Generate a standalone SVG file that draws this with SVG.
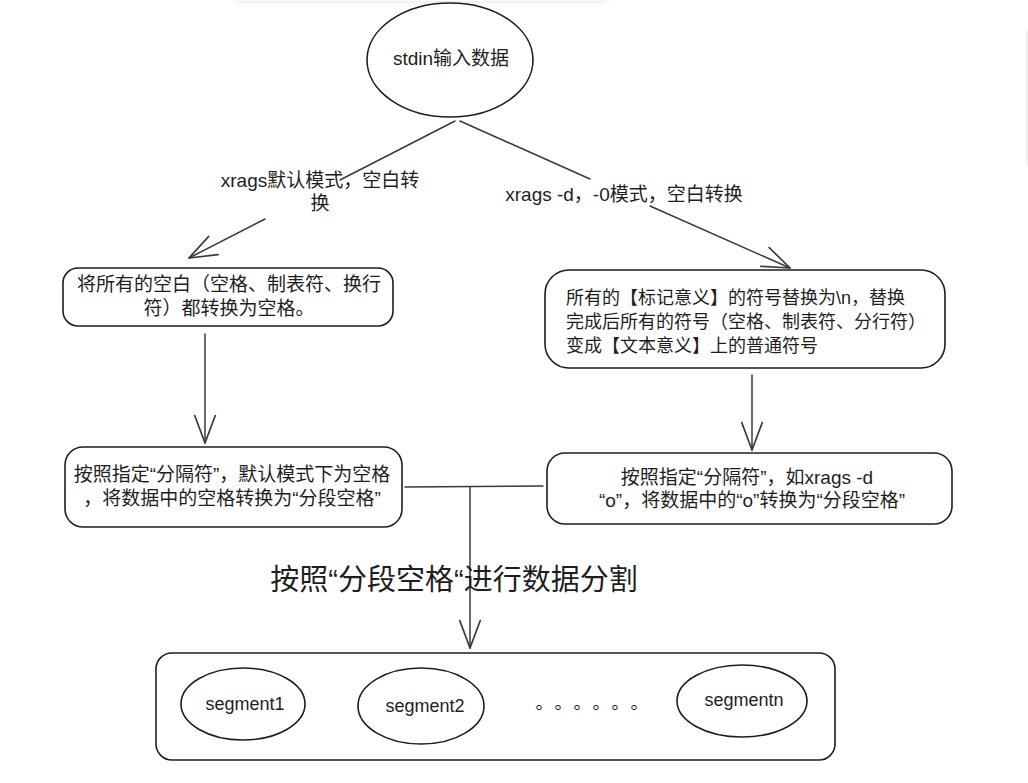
<svg xmlns="http://www.w3.org/2000/svg" width="1028" height="783" viewBox="0 0 1028 783">
<defs>
<style>
.shape{fill:none;stroke:#1e1e1e;stroke-width:1.6;stroke-linecap:round;stroke-linejoin:round}
.conn{fill:none;stroke:#3a3a3a;stroke-width:1.5;stroke-linecap:round}
text{font-family:"Liberation Sans","Noto Sans CJK SC",sans-serif;fill:#1e1e1e;text-anchor:middle}
.t19{font-size:19px}
.t18{font-size:18px}
.left{text-anchor:start}
</style>
<marker id="arr" markerUnits="userSpaceOnUse" markerWidth="40" markerHeight="40" refX="0" refY="0" viewBox="-30 -15 35 30" orient="auto" overflow="visible">
<path d="M-24,-9 L0,0 L-24,9" fill="none" stroke="#3a3a3a" stroke-width="1.5" stroke-linecap="round" stroke-linejoin="round"/>
</marker>
<filter id="sh" x="-10%" y="-50%" width="120%" height="200%">
<feGaussianBlur stdDeviation="2"/>
</filter>
</defs>
<rect width="1028" height="783" fill="#ffffff"/>
<g id="ui-artifacts">
<rect x="232" y="-30" width="378" height="32" rx="10" fill="#e6e6e6" filter="url(#sh)"/>
<rect x="232" y="-30" width="378" height="31" rx="10" fill="#ffffff"/>
<line x1="1027" y1="30" x2="1027" y2="166" stroke="#ececec" stroke-width="1.5"/>
</g>
<g id="connectors">
<line class="conn" x1="455" y1="121" x2="340" y2="180"/>
<line class="conn" x1="265" y1="219" x2="189" y2="258" marker-end="url(#arr)"/>
<line class="conn" x1="460" y1="121" x2="590" y2="179"/>
<line class="conn" x1="650" y1="206" x2="790" y2="268" marker-end="url(#arr)"/>
<line class="conn" x1="205" y1="334" x2="205" y2="443" marker-end="url(#arr)"/>
<line class="conn" x1="752" y1="375" x2="752" y2="450" marker-end="url(#arr)"/>
<line class="conn" x1="405" y1="487" x2="543" y2="486"/>
<line class="conn" x1="470" y1="487" x2="470" y2="648" marker-end="url(#arr)"/>
<text class="t19" x="320" y="187">xrags默认模式，空白转</text>
<text class="t19" x="320" y="210">换</text>
<text class="t19" x="624" y="201">xrags -d，-0模式，空白转换</text>
<text x="454" y="590" style="font-size:29px">按照“分段空格“进行数据分割</text>
</g>
<g id="node-stdin">
<ellipse class="shape" cx="450" cy="60" rx="83" ry="57"/>
<text class="t19" x="451" y="65">stdin输入数据</text>
</g>
<g id="node-default">
<rect class="shape" x="63" y="268" width="330" height="58" rx="15"/>
<text class="t19" x="229" y="291">将所有的空白（空格、制表符、换行</text>
<text class="t19" x="229" y="315">符）都转换为空格。</text>
</g>
<g id="node-d0">
<rect class="shape" x="545" y="270" width="400" height="98" rx="24"/>
<text class="t18 left" x="566" y="304">所有的【标记意义】的符号替换为\n，替换</text>
<text class="t18 left" x="566" y="328">完成后所有的符号（空格、制表符、分行符）</text>
<text class="t18 left" x="566" y="352">变成【文本意义】上的普通符号</text>
</g>
<g id="node-sep-default">
<rect class="shape" x="65" y="447" width="337" height="80" rx="18"/>
<text class="t19" x="232" y="481">按照指定“分隔符”，默认模式下为空格</text>
<text class="t19" x="232" y="505">，将数据中的空格转换为“分段空格”</text>
</g>
<g id="node-sep-d">
<rect class="shape" x="547" y="453" width="405" height="71" rx="18"/>
<text class="t19" x="747" y="484">按照指定“分隔符”，如xrags -d</text>
<text class="t19" x="752" y="507">“o”，将数据中的“o”转换为“分段空格”</text>
</g>
<g id="node-segments">
<rect class="shape" x="156" y="653" width="679" height="107" rx="16"/>
<g id="node-segment1">
<ellipse class="shape" cx="243" cy="704" rx="62" ry="36"/>
<text class="t18" x="245" y="710">segment1</text>
</g>
<g id="node-segment2">
<ellipse class="shape" cx="421" cy="706" rx="63" ry="38"/>
<text class="t18" x="425" y="712">segment2</text>
</g>
<text class="t18" x="597" y="709" style="letter-spacing:10px">。。。。。。</text>
<g id="node-segmentn">
<ellipse class="shape" cx="742" cy="701" rx="65" ry="36"/>
<text class="t18" x="744" y="706">segmentn</text>
</g>
</g>
</svg>
